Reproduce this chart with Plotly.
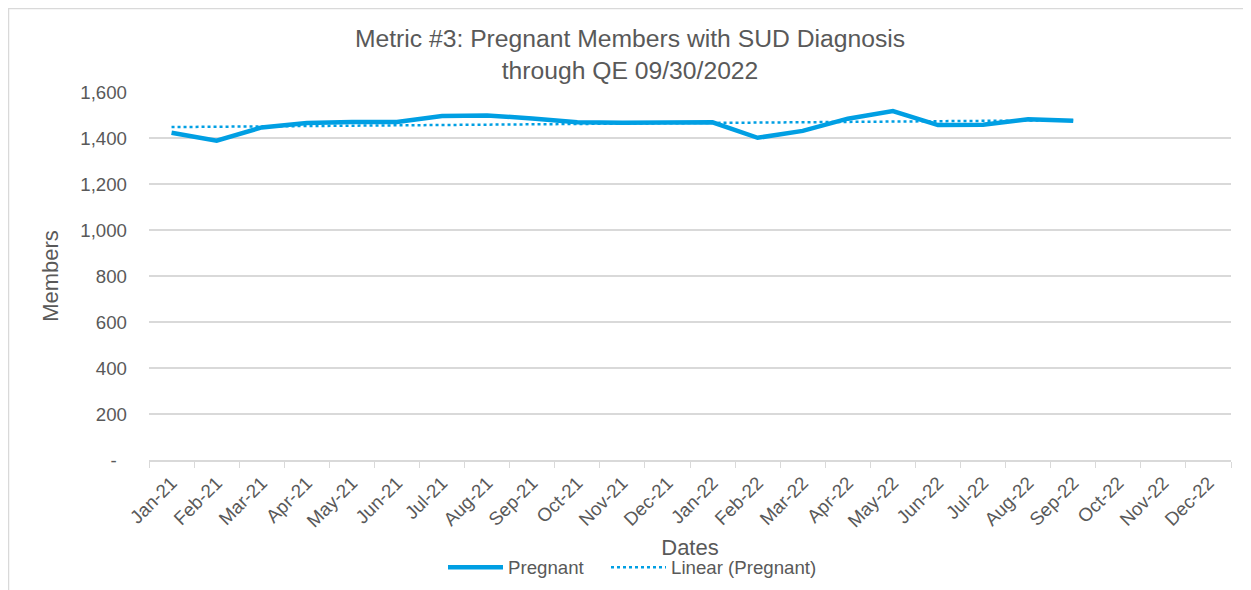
import numpy as np
import plotly.graph_objects as go

# Données du graphique
months = ['Jan-21', 'Feb-21', 'Mar-21', 'Apr-21', 'May-21', 'Jun-21',
          'Jul-21', 'Aug-21', 'Sep-21', 'Oct-21', 'Nov-21', 'Dec-21',
          'Jan-22', 'Feb-22', 'Mar-22', 'Apr-22', 'May-22', 'Jun-22',
          'Jul-22', 'Aug-22', 'Sep-22', 'Oct-22', 'Nov-22', 'Dec-22']
pregnant = [1423, 1388, 1446, 1465, 1470, 1470, 1496, 1498, 1485, 1468,
            1466, 1467, 1468, 1401, 1431, 1484, 1517, 1456, 1458, 1481, 1475]
y_ticks = [0, 200, 400, 600, 800, 1000, 1200, 1400, 1600]
y_labels = ['-\u00a0\u00a0', '200', '400', '600', '800', '1,000', '1,200', '1,400', '1,600']

# Tendance linéaire (comme Excel)
xs = np.arange(1, len(pregnant) + 1)
slope, intercept = np.polyfit(xs, pregnant, 1)
trend = list(slope * xs + intercept)

BLUE = '#009FE3'
GREY = '#595959'
LINE = '#D9D9D9'
FONT = 'Liberation Sans, Arial, sans-serif'

fig = go.Figure()

fig.add_trace(go.Scatter(
    x=months[:len(pregnant)],
    y=pregnant,
    mode='lines',
    name='Pregnant',
    line=dict(color=BLUE, width=4.5),
    legend='legend',
    showlegend=True
))

fig.add_trace(go.Scatter(
    x=months[:len(trend)],
    y=trend,
    mode='lines',
    name='Linear (Pregnant)',
    line=dict(color=BLUE, width=2.5, dash='dot'),
    legend='legend2',
    showlegend=True
))

# La page ajoute une marge de 8 px autour du graphique
W, H = 1251, 590
L, R, T, B = 141, 28, 84, 138
pw, ph = W - L - R, H - T - B


def px_x(x):
    return (x - L) / pw


def px_y(y):
    return (H - B - y) / ph


frame = dict(type='line', xref='paper', yref='paper', line=dict(color=LINE, width=1.5))
shapes = [
    dict(frame, x0=px_x(0.5), x1=px_x(W + 10), y0=px_y(0.5), y1=px_y(0.5)),
    dict(frame, x0=px_x(0.5), x1=px_x(0.5), y0=px_y(0), y1=px_y(H + 10)),
]

legend_style = dict(
    orientation='h',
    xanchor='left',
    y=px_y(559.5), yanchor='middle',
    itemwidth=55,
    bgcolor='rgba(0,0,0,0)'
)

fig.update_layout(
    width=W, height=H,
    margin=dict(l=L, r=R, t=T, b=B),
    paper_bgcolor='white',
    plot_bgcolor='white',
    font=dict(family=FONT, size=18.67, color=GREY),
    showlegend=True,
    title=dict(
        text='Metric #3: Pregnant Members with SUD Diagnosis<br>through QE 09/30/2022',
        x=622 / W, xanchor='center',
        y=1 - 39 / H, yanchor='top',
        font=dict(size=24.7, color=GREY)
    ),
    xaxis=dict(
        type='category',
        categoryorder='array',
        categoryarray=months,
        range=[-0.5, len(months) - 0.5],
        tickangle=-45,
        ticks='outside',
        tickson='boundaries',
        ticklen=6,
        tickcolor=LINE,
        ticklabelstandoff=3,
        showline=True,
        linecolor=LINE,
        linewidth=1.5,
        showgrid=False,
        automargin=False,
        title=dict(text='Dates', standoff=9),
    ),
    yaxis=dict(
        range=[0, 1600],
        tickvals=y_ticks,
        ticktext=y_labels,
        showgrid=True,
        gridcolor=LINE,
        gridwidth=1.5,
        zeroline=False,
        showline=False,
        ticks='',
        ticklabelstandoff=21,
        automargin=False,
        title=dict(text='Members', standoff=15),
    ),
    legend=dict(legend_style, x=px_x(435), visible=True),
    legend2=dict(legend_style, x=px_x(598), visible=True),
    shapes=shapes,
)

fig.write_html('out.html')
